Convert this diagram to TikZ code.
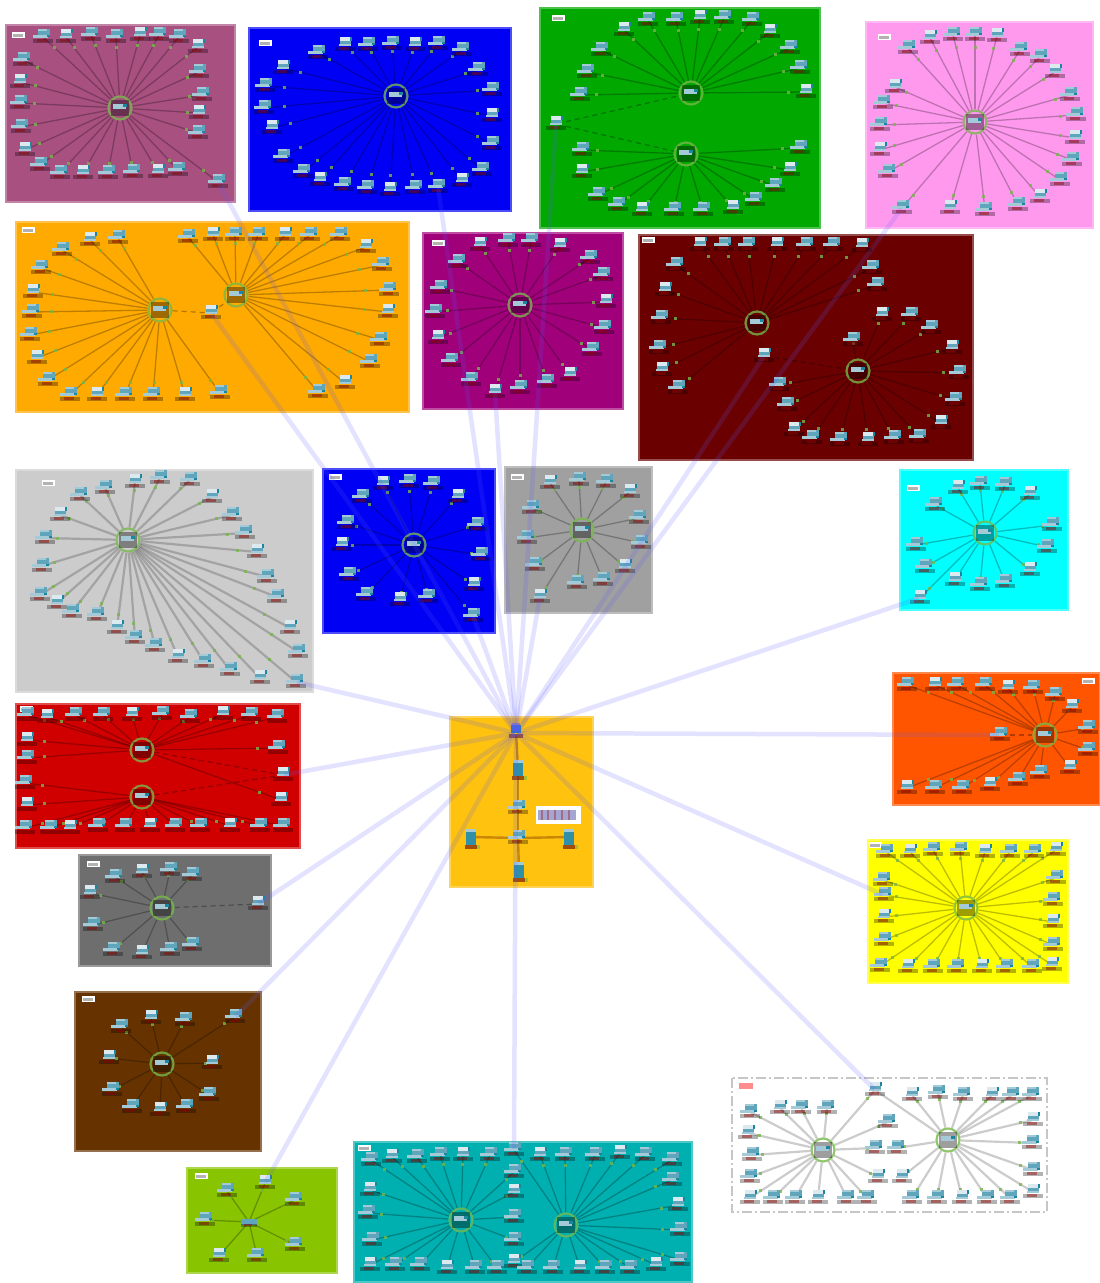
\documentclass[tikz,border=0pt]{standalone}
\pgfdeclarelayer{panels}\pgfdeclarelayer{wires}\pgfdeclarelayer{links}
\pgfsetlayers{panels,wires,main,links}
\definecolor{cMauve}{HTML}{A85080}\definecolor{cBlue}{HTML}{0000F5}\definecolor{cGreen}{HTML}{00A800}
\definecolor{cPink}{HTML}{FF99EE}\definecolor{cOrange}{HTML}{FFAA00}\definecolor{cPurple}{HTML}{A0007A}
\definecolor{cDark}{HTML}{6B0000}\definecolor{cLight}{HTML}{CCCCCC}\definecolor{cGray}{HTML}{A0A0A0}
\definecolor{cCyan}{HTML}{00FFFF}\definecolor{cRust}{HTML}{FF5500}\definecolor{cRed}{HTML}{D10000}
\definecolor{cSlate}{HTML}{6E6E6E}\definecolor{cBrown}{HTML}{663300}\definecolor{cLime}{HTML}{88C400}
\definecolor{cTeal}{HTML}{00B0B0}\definecolor{cYellow}{HTML}{FFFF00}\definecolor{cCenter}{HTML}{FFC20E}
\definecolor{icoA}{HTML}{5FA6BC}\definecolor{icoB}{HTML}{A4CAD8}\definecolor{icoC}{HTML}{1A86A0}\definecolor{icoD}{HTML}{DCEAF0}
\definecolor{ledG}{HTML}{76B84A}\definecolor{linkC}{HTML}{5A5AFF}
\tikzset{
 x=1pt,y=-1pt,
 panel/.style={line width=1.5pt},
 devnode/.style={circle,inner sep=0pt,minimum size=2pt},
 wire/.style={draw=black,line width=1.3pt,opacity=.26},
 softwire/.style={draw=black,line width=2.2pt,opacity=.2},
 corewire/.style={draw=black!70!red,line width=2.4pt,opacity=.3},
 dwire/.style={draw=black,line width=1.2pt,opacity=.3,dash pattern=on 5pt off 4pt},
 led/.style={fill=ledG,inner sep=0pt,minimum size=3pt,opacity=.8},
 tagbox/.style={fill=white,inner sep=0pt,minimum width=13pt,minimum height=6pt},
 uplink/.style={draw=linkC,line width=4.5pt,opacity=.17},
 ring/.style={circle,draw=ledG,line width=2.2pt,minimum size=23pt,inner sep=0pt,opacity=.8},
}
\newcommand{\iconA}{%
 \fill[icoA] (-4,-7) rectangle (6,-1);
 \fill[icoB] (-8,-2) rectangle (4,1);
 \fill[icoC] (3,-2) rectangle (6,0);
 \fill[icoB] (-4,-7) rectangle (3,-5);
}
\newcommand{\iconB}{%
 \fill[icoD] (-4,-7) rectangle (4,-3);
 \fill[icoC] (4,-7) rectangle (6,-3);
 \fill[icoA] (-4,-3) rectangle (5,-1);
 \fill[icoB] (-5,-1) rectangle (5,1);
}
\newcommand{\captionbar}{%
 \fill[black,opacity=.3] (-8,2) rectangle (8,5);
 \fill[black!40!red,opacity=.45] (-5,2) rectangle (3,4);
}
\newcommand{\devat}[4]{%
 \node[devnode] (#1) at (#2,#3) {};
 \begin{scope}[shift={(#2,#3)},scale=1.2]
  \ifnum#4=2 \iconB\else\iconA\fi
  \captionbar
 \end{scope}}
% tall server, centre panel only
\newcommand{\srvat}[3]{%
 \node[devnode] (#1) at (#2,#3) {};
 \begin{scope}[shift={(#2,#3)}]
  \fill[icoC!70!icoA] (-5,-8) rectangle (5,8);
  \fill[icoB] (-5,-8) rectangle (5,-5);
  \fill[black!60!red,opacity=.6] (-6,8) rectangle (6,12);
  \fill[ledG,opacity=.6] (6,8) rectangle (9,12);
 \end{scope}}
\newcommand{\hubat}[3]{%
 \node[ring] (#1) at (#2,#3) {};
 \begin{scope}[shift={(#2,#3)}]
  \fill[black,opacity=.38] (-9,-8) rectangle (9,8);
  \fill[icoB] (-7,-4) rectangle (6,1);
  \fill[icoC] (3,-4) rectangle (7,-1);
 \end{scope}}
\newcommand{\allwires}{}
\makeatletter
\newcommand{\fan}[4][wire]{%
 \foreach \px/\py [count=\ii] in {#4}{%
  \pgfmathtruncatemacro{\mm}{mod(\ii,3)}%
  \devat{#2\ii}{\px}{\py}{\mm}}%
 \g@addto@macro\allwires{\wirefan{#1}{#2}{#3}{#4}}}
\makeatother
\newcommand{\wirefan}[4]{%
 \foreach \px/\py [count=\ii] in {#4}{%
  \draw[#1] (#3) -- node[pos=.84,led]{} (#2\ii);}}
\newcommand{\tagat}[3]{\node[tagbox] (#1) at (#2,#3) {};
 \fill[black,opacity=.3] (#2-5,#3-1.5) rectangle (#2+5,#3+1.5);}
\newcommand{\panelbox}[5]{\path[panel,fill=#5,draw=#5!70!white] (#1,#2) rectangle (#3,#4);}
\begin{document}
\begin{tikzpicture}
\useasboundingbox (0,0) rectangle (1100,1283);
\begin{pgfonlayer}{panels}
\fill[white] (0,0) rectangle (1100,1283);
\panelbox{6}{25}{235}{202}{cMauve}
\panelbox{249}{28}{511}{211}{cBlue}
\panelbox{540}{8}{820}{228}{cGreen}
\panelbox{866}{22}{1093}{228}{cPink}
\panelbox{16}{222}{409}{412}{cOrange}
\panelbox{423}{233}{623}{409}{cPurple}
\panelbox{639}{235}{973}{460}{cDark}
\panelbox{16}{470}{313}{692}{cLight}
\panelbox{323}{469}{495}{633}{cBlue}
\panelbox{505}{467}{652}{613}{cGray}
\panelbox{900}{470}{1068}{610}{cCyan}
\panelbox{893}{673}{1100}{805}{cRust}
\panelbox{16}{704}{300}{848}{cRed}
\panelbox{79}{855}{271}{966}{cSlate}
\panelbox{75}{992}{261}{1151}{cBrown}
\panelbox{187}{1168}{337}{1273}{cLime}
\panelbox{354}{1142}{692}{1282}{cTeal}
\panelbox{868}{840}{1068}{983}{cYellow}
\panelbox{450}{717}{593}{887}{cCenter}
\draw[gray!45,line width=1.8pt,dash pattern=on 10pt off 3pt on 2pt off 3pt] (732,1078) rectangle (1047,1212);
\end{pgfonlayer}
% tags
\tagat{ta}{18}{35}\tagat{tb}{265}{43}\tagat{tc}{558}{18}\tagat{td}{884}{37}\tagat{te}{28}{230}
\tagat{tf}{438}{243}\tagat{tg}{648}{240}\tagat{th}{48}{483}\tagat{ti}{335}{477}\tagat{tj}{517}{477}
\tagat{tk}{913}{488}\tagat{tl}{1088}{681}\tagat{tm}{26}{709}\tagat{tn}{93}{864}\tagat{to}{88}{999}
\tagat{tp}{201}{1176}\tagat{tq}{364}{1148}\tagat{tr}{875}{845}
\fill[red!45] (739,1083) rectangle (753,1089);
% hubs
\hubat{ha}{120}{108}\hubat{hb}{396}{96}\hubat{hc}{691}{93}\hubat{hcc}{686}{154}\hubat{hd}{975}{122}
\hubat{he}{160}{310}\hubat{hee}{236}{295}\hubat{hf}{520}{305}\hubat{hg}{757}{323}\hubat{hgg}{858}{371}
\hubat{hh}{128}{540}\hubat{hi}{414}{545}\hubat{hj}{582}{530}\hubat{hk}{985}{533}\hubat{hl}{1045}{735}
\hubat{hm}{142}{750}\hubat{hmm}{142}{797}\hubat{hn}{162}{908}\hubat{ho}{162}{1064}\hubat{hq}{461}{1220}
\hubat{hqq}{566}{1225}\hubat{hr}{966}{908}\hubat{hs}{823}{1150}\hubat{hss}{948}{1140}
\node[devnode] (hp) at (249,1222) {};
\begin{scope}[shift={(249,1222)}]\fill[icoA] (-8,-3) rectangle (8,3);\captionbar\end{scope}
% fans
\fan{a}{ha}{43/37,66/37,91/35,116/37,140/35,159/35,179/37,198/47,199/72,202/95,199/113,198/133,178/170,158/172,133/172,108/173,83/173,60/173,40/165,25/150,21/127,20/103,20/82,23/60,218/182}
\fan{b}{hb}{318/53,345/45,368/45,392/44,415/45,438/44,462/50,283/68,265/86,264/108,272/128,283/157,303/172,320/180,344/185,367/188,390/190,415/188,438/187,462/181,482/170,492/144,492/116,492/90,478/70}
\fan{c}{hc}{601/50,624/30,648/20,676/20,700/18,724/18,752/20,770/32,790/48,800/68,806/92,587/72,580/95}
\fan{cc}{hcc}{582/150,582/172,598/195,618/205,642/210,674/210,703/210,733/208,755/200,775/186,790/170,800/148}
\fan{d}{hd}{908/48,930/38,953/35,975/35,997/36,1020/50,1040/57,1055/72,1070/95,1076/115,1075/138,1072/160,1060/180,1040/197,1018/205,985/210,950/208,902/208,888/172,880/150,880/125,883/103,895/87}
\fan{e}{he}{118/238,90/240,62/250,41/268,33/292,32/312,30/335,37/358,48/380,70/395,97/395,125/395,153/395,185/395,220/393}
\fan{ee}{hee}{188/237,213/235,235/235,258/235,285/235,310/235,340/235,366/247,382/265,389/290,388/312,380/340,370/362,345/383,318/392}
\fan{f}{hf}{458/262,480/245,508/241,531/241,560/246,590/258,603/275,606/302,604/328,592/350,570/375,547/382,520/388,495/392,471/380,451/361,438/338,435/312,440/288}
\fan{g}{hg}{676/265,700/245,724/245,748/245,777/245,806/245,833/245,862/246,872/268,877/285,665/290,661/318,659/348,662/370,678/388}
\fan{gg}{hgg}{853/340,882/315,911/315,931/328,952/348,959/373,955/400,941/423,919/437,894/438,868/440,840/440,812/438,794/430,787/405,779/385}
\fan[softwire]{h}{hh}{45/538,60/515,80/495,105/488,135/482,160/478,190/480,212/497,232/515,245/533,257/552,267/577,277/597,290/628,298/652,296/682,260/678,230/670,204/662,178/657,155/646,135/638,117/628,97/615,72/612,57/603,40/595,42/566}
\fan{i}{hi}{362/497,383/484,409/482,433/484,458/497,477/525,481/555,474/585,473/616,428/597,400/600,366/595,349/575,342/545,347/523}
\fan{j}{hj}{532/508,550/483,579/480,606/482,630/492,639/518,641/543,625/567,603/580,577/583,540/597,535/565,527/538}
\fan{k}{hk}{935/505,958/488,980/484,1005/485,1030/494,1052/525,1047/547,1030/570,1005/582,980/585,955/580,925/567,916/545,920/598}
\fan{l}{hl}{907/685,935/685,957/685,985/685,1008/688,1033/688,1055/695,1072/707,1088/728,1088/750,1070/768,1040/773,1018/780,990/785,962/788,935/788,907/788}
\fan{m}{hm}{27/715,47/717,75/715,103/715,132/715,162/714,190/717,223/714,251/715,277/717,27/740,27/758,278/748,281/800}
\fan{mm}{hmm}{25/783,27/805,25/828,50/828,70/828,98/826,125/826,150/826,175/826,200/826,230/826,260/826,283/826}
\fan{n}{hn}{115/877,142/872,170/870,192/875,90/893,93/925,113/950,142/953,170/950,192/945}
\fan{o}{ho}{121/1027,151/1018,185/1020,235/1017,109/1058,112/1090,132/1107,160/1110,186/1107,209/1095,212/1063}
\fan{p}{hp}{227/1191,265/1183,295/1200,205/1220,219/1256,257/1256,295/1245}
\fan{q}{hq}{371/1160,392/1157,417/1157,440/1155,463/1155,490/1155,514/1172,514/1192,514/1217,514/1240,370/1190,368/1213,372/1240,370/1265,395/1265,420/1265,447/1268,475/1268,497/1268}
\fan{qq}{hqq}{514/1150,540/1155,565/1155,595/1155,620/1153,645/1155,672/1160,514/1262,527/1268,553/1268,580/1268,605/1268,630/1268,656/1265,680/1260,672/1180,678/1205,680/1230}
\fan{r}{hr}{886/852,910/852,933/850,960/850,985/852,1010/852,1034/852,1056/850,883/880,884/895,884/917,884/940,880/966,908/967,933/967,957/967,982/967,1006/967,1032/967,1052/965,1056/878,1053/900,1053/922,1053/945}
\fan[softwire]{s}{hs}{750/1112,780/1108,801/1108,827/1108,748/1133,752/1155,750/1177,750/1198,773/1198,795/1198,818/1198,847/1198,867/1198,878/1177,875/1148,888/1122,875/1090}
\fan[softwire]{ss}{hss}{897/1148,902/1177,912/1198,937/1198,962/1198,987/1198,1010/1198,1033/1192,1033/1170,1032/1143,1033/1120,1032/1095,1012/1095,992/1095,963/1095,938/1093,912/1095}
% extra devices
\devat{xc}{556}{124}{2}\devat{xe}{211}{313}{2}\devat{xg}{764}{356}{2}
\devat{xl}{1000}{735}{1}\devat{xm}{283}{775}{2}\devat{xn}{258}{904}{2}
% centre
\node[devnode] (ctop) at (516,733) {};
\begin{scope}[shift={(516,733)}]\fill[icoC] (-5,-8) rectangle (5,0);\fill[linkC,opacity=.5] (-4,-10) rectangle (4,-3);\fill[black!60!red,opacity=.6] (-7,1) rectangle (7,5);\end{scope}
\srvat{csrv}{518}{768}\devat{crt}{518}{808}{1}\devat{csw}{518}{838}{1}
\srvat{cl}{471}{837}\srvat{cr}{569}{837}\srvat{cb}{519}{870}
\begin{scope}[shift={(558,815)}]
 \node[devnode,fill=white,rectangle,minimum width=45pt,minimum height=18pt] (cnote) at (0,0) {};
 \fill[black!50!blue,opacity=.35] (-20,-5) rectangle (18,5);
 \foreach \sx in {-17,-11,-4,3,10}{\fill[red!60!black,opacity=.35] (\sx,-5) rectangle (\sx+2,5);}
\end{scope}
\begin{pgfonlayer}{wires}
 \allwires
 \draw[dwire] (xc)--(hc); \draw[dwire] (xc)--(hcc);
 \draw[dwire] (he)--(xe); \draw[dwire] (xe)--(hee);
 \draw[dwire] (xg)--(hg); \draw[dwire] (xg)--(hgg);
 \draw[dwire] (xl)--(hl);
 \draw[dwire] (hm)--(xm); \draw[dwire] (hmm)--(xm);
 \draw[dwire] (hn)--(xn);
 \draw[softwire] (hss)--(s17);
 \draw[corewire] (ctop)--(csrv); \draw[corewire] (csrv)--(crt); \draw[corewire] (crt)--(csw); \draw[corewire] (csw)--(cb);
 \draw[corewire] (cl)--(csw); \draw[corewire] (csw)--(cr);
\end{pgfonlayer}
\begin{pgfonlayer}{links}
\foreach \t in {a25,b19,xc,d18,xe,f14,xg,i9,j11,k14,xl,r10,s17,qq1,p2,o4,xn,xm,h16}{
 \draw[uplink] (ctop) -- (\t);}
\end{pgfonlayer}
\end{tikzpicture}
\end{document}
